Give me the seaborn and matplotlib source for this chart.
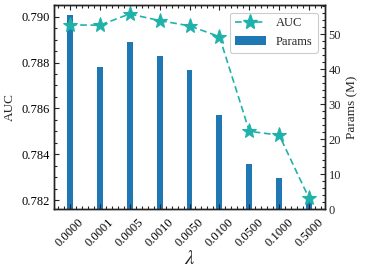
import numpy as np
import matplotlib
matplotlib.use("Agg")
import matplotlib.pyplot as plt
import seaborn as sns
from matplotlib.ticker import AutoMinorLocator, MultipleLocator
from matplotlib.lines import Line2D
from matplotlib.patches import Patch

lambdas = ["0.0000", "0.0001", "0.0005", "0.0010", "0.0050", "0.0100", "0.0500", "0.1000", "0.5000"]
auc = [0.78964, 0.78963, 0.79012, 0.78983, 0.78960, 0.78913, 0.78500, 0.78483, 0.78207]
params = [55.4, 40.7, 47.8, 43.8, 39.8, 26.9, 12.9, 8.9, 2.5]

sns.set_style("ticks")
plt.rcParams["font.family"] = ["Liberation Serif", "DejaVu Serif"]
plt.rcParams["mathtext.fontset"] = "stix"

line_color = "#20B2AA"
bar_color = "#1f77b4"

fig, ax = plt.subplots(figsize=(3.65, 2.72), dpi=100)
fig.subplots_adjust(left=54/365, right=325/365, top=1-5/272, bottom=1-209/272)
ax2 = ax.twinx()

pos = np.arange(len(lambdas))
sns.barplot(x=pos, y=params, ax=ax2, native_scale=True, width=0.2,
            color=bar_color, saturation=1, linewidth=0)
sns.lineplot(x=pos, y=auc, ax=ax, color=line_color, linestyle=(0, (4, 2.2)),
             linewidth=1.2, marker="*", markersize=11, markeredgecolor=line_color)

ax.set_zorder(ax2.get_zorder() + 1)
ax.patch.set_visible(False)

ax.set_xlim(-0.53, len(lambdas) - 1 + 0.53)
ax.set_ylim(0.78161, 0.79051)
ax2.set_ylim(0, 58.3)

ax.set_xticks(pos)
ax.set_xticklabels(lambdas, rotation=45, ha="center", fontsize=9)
ax.xaxis.set_minor_locator(AutoMinorLocator(5))
ax.yaxis.set_major_locator(MultipleLocator(0.002))
ax.yaxis.set_minor_locator(AutoMinorLocator(4))
ax.yaxis.set_major_formatter(matplotlib.ticker.FormatStrFormatter("%.3f"))
ax2.yaxis.set_major_locator(MultipleLocator(10))
ax2.yaxis.set_minor_locator(AutoMinorLocator(5))

ax.tick_params(axis="both", which="both", direction="in", width=0.8, colors="#222222",
               labelcolor="black")
ax.tick_params(axis="x", which="both", top=True, bottom=True, pad=5)
ax.tick_params(axis="y", which="both", left=True, right=False, labelsize=9, pad=3)
ax.tick_params(which="major", length=3.5)
ax.tick_params(which="minor", length=2)
ax2.tick_params(axis="y", which="both", direction="in", width=0.8, right=True,
                labelsize=9, pad=2.5)
ax2.tick_params(axis="y", which="major", length=3.5)
ax2.tick_params(axis="y", which="minor", length=2)

ax.set_xlabel(r"$\lambda$", fontsize=15, labelpad=1)
ax.set_ylabel("AUC", fontsize=9.5, labelpad=4)
ax2.set_ylabel("Params (M)", fontsize=9.5, labelpad=4)
ax2.set_xlabel("")

for a in (ax, ax2):
    for s in a.spines.values():
        s.set_linewidth(1.0)
        s.set_color("#222222")

handles = [Line2D([0], [0], color=line_color, linestyle=(0, (4, 2.2)), linewidth=1.2,
                  marker="*", markersize=11),
           Patch(facecolor=bar_color, edgecolor="none")]
leg = ax.legend(handles, ["AUC", "Params"], loc="upper right", fontsize=9,
                frameon=True, fancybox=True, edgecolor="#cccccc", framealpha=1,
                borderaxespad=0.6, handlelength=2.5, labelspacing=0.5)
ax.get_legend().get_frame().set_linewidth(0.8)

fig.savefig("out.png", dpi=100)
